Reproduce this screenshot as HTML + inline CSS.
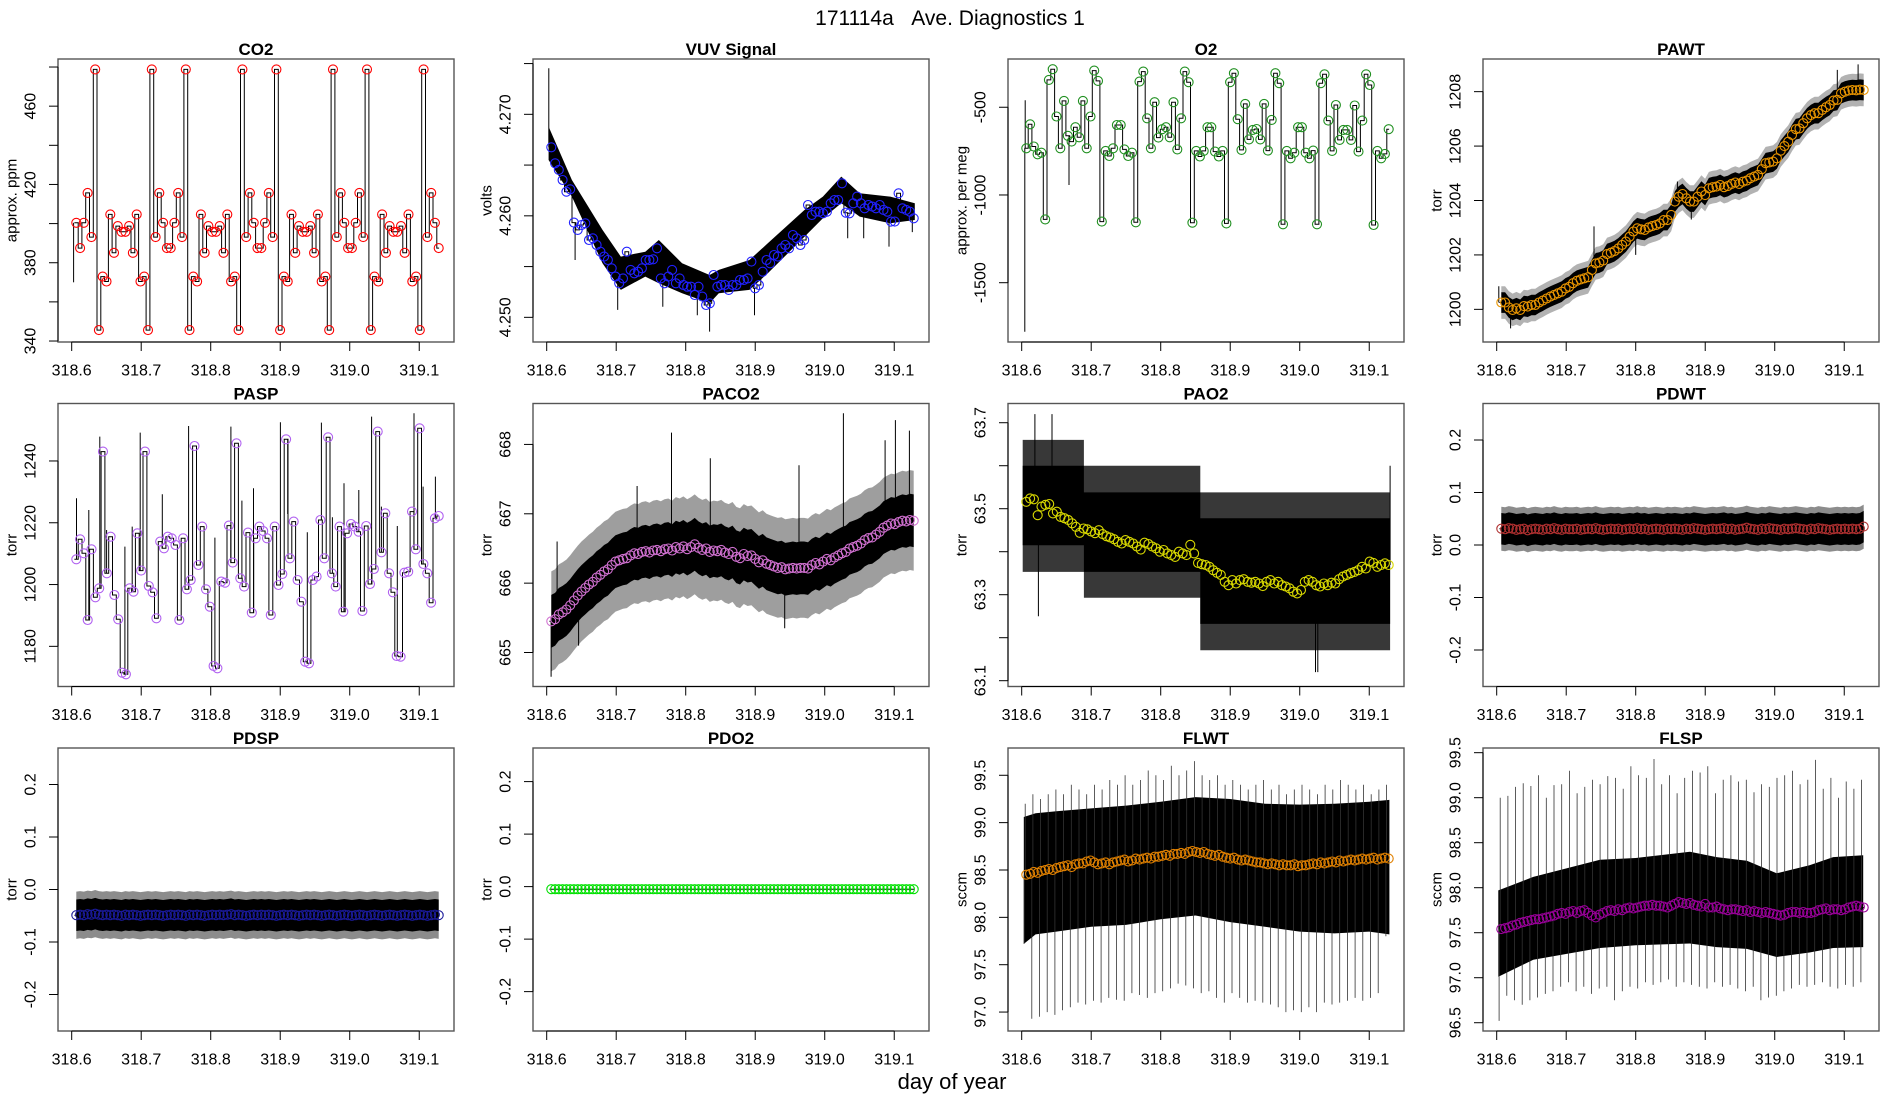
<!DOCTYPE html>
<html>
<head>
<meta charset="utf-8">
<style>
  html,body{margin:0;padding:0;background:#fff;}
  svg{display:block;font-family:"Liberation Sans",Arial,sans-serif;}
</style>
</head>
<body>
<svg id="chart" width="1900" height="1100" viewBox="0 0 1900 1100" xmlns="http://www.w3.org/2000/svg">
  <rect x="0" y="0" width="1900" height="1100" fill="#fff"/>
  <text x="950" y="25" text-anchor="middle" font-size="21" fill="#000" style="white-space:pre">171114a&#160;&#160;&#160;Ave. Diagnostics 1</text>
  <text x="952" y="1089" text-anchor="middle" font-size="22" fill="#000">day of year</text>
  <g id="panels"></g>
</svg>
<script>
// ---------- shared x-axis ----------
const xTicks = [318.6, 318.7, 318.8, 318.9, 319.0, 319.1];
const xTickLabels = ['318.6', '318.7', '318.8', '318.9', '319.0', '319.1'];
const avgStart = 318.6066;
const avgEnd = 319.128;

// ---------- CO2 ----------
const co2Avg = [400.4,387.5,400.4,415.7,393.1,478.8,345.6,372.9,370.4,404.7,385.1,398.7,395.8,395.8,398.7,385.1,404.7,370.4,372.9,345.6,478.8,393.1,415.7,400.4,387.5,387.5,400.4,415.7,393.1,478.8,345.6,372.9,370.4,404.7,385.1,398.7,395.8,395.8,398.7,385.1,404.7,370.4,372.9,345.6,478.8,393.1,415.7,400.4,387.5,387.5,400.4,415.7,393.1,478.8,345.6,372.9,370.4,404.7,385.1,398.7,395.8,395.8,398.7,385.1,404.7,370.4,372.9,345.6,478.8,393.1,415.7,400.4,387.5,387.5,400.4,415.7,393.1,478.8,345.6,372.9,370.4,404.7,385.1,398.7,395.8,395.8,398.7,385.1,404.7,370.4,372.9,345.6,478.8,393.1,415.7,400.4,387.5];
const co2SpikeT = [318.6028];
const co2SpikeV = [370.0];
const co2Ticks = [340,360,380,400,420,440,460,480];
const co2TickLabels = ['340','','380','','420','','460',''];

// ---------- VUV ----------
const vuvAvg = [4.26675,4.26517,4.26452,4.26353,4.26238,4.26261,4.25933,4.25861,4.25910,4.25926,
4.25762,4.25779,4.25713,4.25647,4.25598,4.25565,4.25483,4.25401,4.25335,4.25384,
4.25647,4.25467,4.25434,4.25450,4.25483,4.25565,4.25565,4.25572,4.25680,4.25384,
4.25335,4.25401,4.25467,4.25335,4.25384,4.25319,4.25302,4.25302,4.25220,4.25302,
4.25204,4.25122,4.25138,4.25417,4.25302,4.25319,4.25319,4.25270,4.25319,4.25319,
4.25368,4.25368,4.25384,4.25549,4.25286,4.25319,4.25450,4.25565,4.25532,4.25614,
4.25598,4.25680,4.25713,4.25680,4.25811,4.25779,4.25713,4.25762,4.26107,4.26008,
4.26041,4.26041,4.26025,4.26041,4.26123,4.26156,4.26156,4.26320,4.26031,4.26025,
4.26123,4.26189,4.26123,4.26074,4.26107,4.26091,4.26074,4.26107,4.26058,4.26041,
4.25943,4.25943,4.26222,4.26074,4.26058,4.26041,4.25976];
const vuvBandT = [318.6027,318.6363,318.6803,318.7066,318.7418,318.7613,318.7948,318.8343,318.8476,318.8916,318.9181,318.9710,318.9974,319.0238,319.0503,319.0943,319.1296];
const vuvBandHi = [4.26879,4.26353,4.25861,4.25598,4.25647,4.25762,4.25532,4.25417,4.25467,4.25565,4.25729,4.26058,4.26189,4.26386,4.26222,4.26189,4.26123];
const vuvBandLo = [4.26550,4.26189,4.25532,4.25270,4.25401,4.25335,4.25237,4.25138,4.25237,4.25270,4.25434,4.25795,4.25976,4.26123,4.25992,4.25926,4.25959];
const vuvSpikeT = [318.6030,318.6408,318.7022,318.7670,318.8167,318.8343,318.8990,319.0330,319.0560,319.0925,319.1260];
const vuvSpikeV = [4.27453,4.25565,4.25073,4.25105,4.25020,4.24859,4.25020,4.25780,4.25780,4.25697,4.25840];
const vuvTicks = [4.250,4.255,4.260,4.265,4.270,4.275];
const vuvTickLabels = ['4.250','','4.260','','4.270',''];

// ---------- O2 ----------
const o2Avg = [-734,-597,-724,-768,-759,-1139,-344,-283,-553,-734,
-464,-663,-696,-614,-671,-464,-734,-553,-291,-350,
-1152,-749,-778,-734,-601,-601,-740,-778,-759,-1156,
-354,-297,-563,-734,-471,-673,-625,-614,-671,-471,
-740,-563,-297,-357,-1158,-749,-781,-749,-614,-614,
-753,-781,-749,-1162,-357,-306,-568,-743,-481,-683,
-629,-624,-683,-481,-747,-572,-306,-363,-1167,-749,
-791,-759,-614,-614,-759,-791,-747,-1167,-363,-312,
-576,-749,-487,-686,-629,-629,-686,-490,-753,-576,
-312,-373,-1171,-749,-791,-766,-625];
const o2SpikeT = [318.6045,318.6050,318.6680];
const o2SpikeV = [-1780,-460,-943];
const o2Ticks = [-1500,-1000,-500];
const o2TickLabels = ['-1500','-1000','-500'];

// ---------- PAWT ----------
const pawtAvg = [1200.25,1200.25,1200.07,1199.98,1200.04,1199.98,1200.12,1200.10,1200.16,1200.16,
1200.25,1200.32,1200.40,1200.47,1200.53,1200.59,1200.65,1200.77,1200.83,1200.96,
1201.05,1201.10,1201.14,1201.18,1201.45,1201.69,1201.72,1201.79,1202.03,1202.08,
1202.14,1202.24,1202.37,1202.49,1202.67,1202.86,1202.98,1202.94,1202.92,1203.01,
1203.06,1203.10,1203.16,1203.28,1203.28,1203.47,1203.96,1204.14,1204.24,1204.08,
1203.96,1203.96,1204.14,1204.33,1204.20,1204.45,1204.49,1204.51,1204.57,1204.49,
1204.53,1204.61,1204.66,1204.61,1204.69,1204.73,1204.82,1204.88,1204.94,1205.15,
1205.37,1205.40,1205.43,1205.55,1205.83,1206.00,1206.16,1206.41,1206.62,1206.65,
1206.84,1207.02,1207.14,1207.21,1207.21,1207.33,1207.43,1207.51,1207.67,1207.70,
1207.94,1208.00,1208.04,1208.06,1208.05,1208.07,1208.06];
const pawtSpikeT = [318.6030,318.6200,318.7400,318.8000,318.8600,318.8800,319.0900,319.1200];
const pawtSpikeV = [1200.85,1199.30,1203.05,1202.00,1204.70,1203.30,1208.80,1209.00];
const pawtTicks = [1200,1202,1204,1206,1208];
const pawtTickLabels = ['1200','1202','1204','1206','1208'];

// ---------- PASP ----------
const paspAvg = [1208.17,1214.64,1210.11,1188.53,1211.40,1195.87,1198.78,1243.02,1203.63,1215.50,
1196.62,1188.74,1171.48,1170.94,1198.78,1197.70,1216.58,1204.50,1243.02,1199.53,
1197.48,1189.07,1213.89,1211.73,1215.50,1214.96,1212.81,1188.53,1214.96,1198.45,
1201.48,1244.86,1206.33,1218.74,1198.45,1192.84,1173.64,1172.88,1200.94,1200.61,
1219.07,1207.09,1245.72,1202.02,1199.32,1216.80,1190.90,1214.96,1218.74,1217.34,
1214.96,1190.14,1218.74,1199.86,1203.42,1247.01,1208.49,1220.36,1201.48,1194.46,
1175.04,1174.50,1201.48,1202.56,1220.90,1208.49,1247.66,1203.63,1199.32,1218.74,
1191.22,1216.58,1219.60,1218.74,1217.12,1191.44,1218.96,1200.18,1205.04,1249.50,
1210.43,1223.06,1203.63,1197.48,1176.87,1176.66,1203.85,1204.17,1223.60,1211.40,
1250.58,1206.66,1203.63,1194.14,1221.44,1222.20];
const paspSpikeT = [318.6069,318.6246,318.6404,318.6502,318.6765,318.6871,318.6985,318.7303,318.7682,318.7796,318.8060,318.8290,318.8448,318.8615,318.9003,318.9108,318.9390,318.9593,318.9751,318.9918,319.0130,319.0315,319.0456,319.0685,319.0924,319.1055,319.1232];
const paspSpikeV = [1227.91,1224.14,1247.88,1217.66,1212.27,1218.74,1249.17,1229.21,1251.33,1221.12,1215.18,1251.11,1227.16,1231.15,1252.52,1222.84,1216.91,1252.41,1221.76,1232.77,1230.61,1254.35,1225.22,1218.96,1255.43,1231.69,1234.93];
const paspTicks = [1180,1200,1220,1240];
const paspTickLabels = ['1180','1200','1220','1240'];

// ---------- PACO2 ----------
const paco2Avg = [665.45,665.48,665.55,665.58,665.62,665.68,665.75,
665.82,665.88,665.93,665.98,666.02,666.08,
666.12,666.17,666.20,666.26,666.31,
666.33,666.35,666.36,666.40,666.43,
666.42,666.45,666.46,666.44,666.47,666.48,
666.46,666.49,666.50,666.47,666.52,
666.50,666.53,666.49,666.52,666.56,
666.51,666.48,666.50,666.45,666.47,
666.46,666.48,666.44,666.42,666.45,
666.38,666.36,666.42,666.39,666.40,
666.35,666.30,666.33,666.28,666.26,
666.24,666.22,666.23,666.20,666.21,
666.22,666.21,666.22,666.22,666.21,
666.26,666.29,666.27,666.31,
666.35,666.33,666.37,666.40,666.43,
666.45,666.50,666.52,666.54,666.57,
666.62,666.65,666.66,666.70,666.74,
666.80,666.83,666.86,666.85,666.88,
666.90,666.89,666.91,666.90];
const paco2SpikeT = [318.6063,318.6459,318.7795,318.8354,318.9424,318.9630,319.0269,319.0868,319.1017,319.1218,318.6150,318.7300];
const paco2SpikeV = [664.65,665.10,668.17,667.80,665.35,667.70,668.45,668.06,668.35,668.20,666.60,667.40];
const paco2Ticks = [665,666,667,668];
const paco2TickLabels = ['665','666','667','668'];

// ---------- PAO2 ----------
const pao2Avg = [63.516,63.524,63.522,63.485,63.505,63.509,63.511,63.489,63.493,63.481,
63.478,63.474,63.466,63.458,63.444,63.454,63.452,63.447,63.443,63.450,
63.441,63.436,63.433,63.429,63.423,63.419,63.427,63.423,63.419,63.412,
63.405,63.421,63.418,63.412,63.408,63.400,63.404,63.396,63.392,63.388,
63.400,63.396,63.392,63.416,63.396,63.374,63.371,63.369,63.365,63.357,
63.351,63.346,63.330,63.322,63.334,63.326,63.334,63.336,63.330,63.328,
63.330,63.326,63.320,63.330,63.334,63.326,63.330,63.322,63.319,63.315,
63.307,63.303,63.311,63.330,63.334,63.330,63.322,63.319,63.326,63.322,
63.328,63.326,63.336,63.342,63.346,63.350,63.353,63.357,63.365,63.361,
63.377,63.374,63.365,63.369,63.373,63.369];
const pao2BandT = [318.6014,318.6895,318.6895,318.8570,318.8570,319.1300];
const pao2BandHi = [63.600,63.600,63.538,63.538,63.478,63.478];
const pao2BandLo = [63.415,63.415,63.353,63.353,63.232,63.232];
const pao2HairHi = [63.660,63.660,63.600,63.600,63.538,63.538];
const pao2HairLo = [63.353,63.353,63.293,63.293,63.171,63.171];
const pao2SpikeT = [318.6190,318.6436,318.6240,319.0227,319.0260,319.1300];
const pao2SpikeV = [63.720,63.720,63.250,63.120,63.120,63.600];
const pao2Ticks = [63.1,63.2,63.3,63.4,63.5,63.6,63.7];
const pao2TickLabels = ['63.1','','63.3','','63.5','','63.7'];

// ---------- PDWT ----------
const pdwtAvg = [0.031,0.030,0.032,0.031,0.029,0.030,0.031,0.028,0.030,0.031,
0.030,0.029,0.031,0.030,0.032,0.030,0.029,0.031,0.030,0.030,
0.031,0.029,0.030,0.031,0.030,0.032,0.030,0.029,0.030,0.031,
0.030,0.031,0.029,0.030,0.031,0.030,0.032,0.030,0.031,0.029,
0.030,0.031,0.030,0.029,0.031,0.030,0.031,0.030,0.029,0.031,
0.030,0.032,0.031,0.030,0.029,0.030,0.031,0.030,0.031,0.032,
0.030,0.031,0.029,0.030,0.031,0.033,0.031,0.030,0.029,0.031,
0.030,0.032,0.031,0.030,0.029,0.031,0.030,0.031,0.032,0.031,
0.030,0.029,0.031,0.030,0.032,0.031,0.030,0.029,0.030,0.031,
0.030,0.031,0.030,0.031,0.030,0.031,0.035];
const pdwtTicks = [-0.2,-0.1,0.0,0.1,0.2];
const pdwtTickLabels = ['-0.2','-0.1','0.0','0.1','0.2'];

// ---------- PDSP ----------
const pdspAvg = [-0.049,-0.048,-0.049,-0.047,-0.048,-0.046,-0.048,-0.049,-0.048,-0.049,
-0.048,-0.049,-0.050,-0.048,-0.049,-0.048,-0.049,-0.050,-0.049,-0.048,
-0.049,-0.048,-0.049,-0.050,-0.049,-0.048,-0.049,-0.048,-0.049,-0.050,
-0.048,-0.049,-0.048,-0.049,-0.050,-0.049,-0.048,-0.049,-0.048,-0.049,
-0.048,-0.047,-0.049,-0.048,-0.049,-0.050,-0.049,-0.048,-0.049,-0.048,
-0.049,-0.048,-0.049,-0.050,-0.049,-0.048,-0.049,-0.048,-0.049,-0.050,
-0.049,-0.048,-0.049,-0.048,-0.049,-0.050,-0.049,-0.048,-0.049,-0.050,
-0.049,-0.048,-0.049,-0.050,-0.049,-0.048,-0.049,-0.050,-0.049,-0.048,
-0.049,-0.050,-0.049,-0.048,-0.049,-0.050,-0.049,-0.048,-0.049,-0.050,
-0.049,-0.048,-0.049,-0.050,-0.049,-0.048,-0.049];
const pdspTicks = [-0.2,-0.1,0.0,0.1,0.2];
const pdspTickLabels = ['-0.2','-0.1','0.0','0.1','0.2'];

// ---------- PDO2 ----------
const pdo2Avg = [-0.005,-0.005,-0.005,-0.005,-0.005,-0.005,-0.005,-0.005,-0.005,-0.005,
-0.005,-0.005,-0.005,-0.005,-0.005,-0.005,-0.005,-0.005,-0.005,-0.005,
-0.005,-0.005,-0.005,-0.005,-0.005,-0.005,-0.005,-0.005,-0.005,-0.005,
-0.005,-0.005,-0.005,-0.005,-0.005,-0.005,-0.005,-0.005,-0.005,-0.005,
-0.005,-0.005,-0.005,-0.005,-0.005,-0.005,-0.005,-0.005,-0.005,-0.005,
-0.005,-0.005,-0.005,-0.005,-0.005,-0.005,-0.005,-0.005,-0.005,-0.005,
-0.005,-0.005,-0.005,-0.005,-0.005,-0.005,-0.005,-0.005,-0.005,-0.005,
-0.005,-0.005,-0.005,-0.005,-0.005,-0.005,-0.005,-0.005,-0.005,-0.005,
-0.005,-0.005,-0.005,-0.005,-0.005,-0.005,-0.005,-0.005,-0.005,-0.005,
-0.005,-0.005,-0.005,-0.005,-0.005,-0.005,-0.005];
const pdo2Ticks = [-0.2,-0.1,0.0,0.1,0.2];
const pdo2TickLabels = ['-0.2','-0.1','0.0','0.1','0.2'];

// ---------- FLWT ----------
const flwtAvg = [98.45,98.46,98.48,98.47,98.49,98.50,98.51,98.50,98.52,98.53,
98.54,98.55,98.53,98.56,98.57,98.57,98.59,98.60,98.58,98.56,
98.57,98.58,98.56,98.58,98.59,98.60,98.61,98.59,98.60,98.62,
98.61,98.62,98.63,98.62,98.64,98.64,98.65,98.66,98.65,98.67,
98.67,98.68,98.67,98.69,98.70,98.69,98.68,98.69,98.67,98.66,
98.65,98.66,98.64,98.63,98.62,98.63,98.61,98.60,98.61,98.60,
98.59,98.58,98.58,98.57,98.56,98.57,98.56,98.55,98.56,98.55,
98.55,98.56,98.54,98.55,98.55,98.56,98.57,98.56,98.58,98.57,
98.58,98.59,98.58,98.60,98.59,98.60,98.61,98.60,98.61,98.62,
98.61,98.62,98.63,98.61,98.62,98.63,98.62];
const flwtBandT = [318.603,318.62,318.65,318.70,318.75,318.80,318.85,318.90,318.95,319.00,319.05,319.10,319.129];
const flwtBandHi = [99.06,99.10,99.12,99.15,99.18,99.22,99.27,99.25,99.20,99.19,99.20,99.22,99.24];
const flwtBandLo = [97.72,97.82,97.85,97.90,97.92,97.98,98.02,97.95,97.90,97.85,97.83,97.85,97.82];
const flwtSpikeUp = [99.20,99.30,99.25,99.30,99.35,99.30,99.40,99.35,99.30,99.40,99.35,99.45,99.40,99.50,99.40,99.45,99.55,99.50,99.45,99.60,99.50,99.55,99.65,99.50,99.45,99.50,99.40,99.45,99.40,99.35,99.40,99.45,99.35,99.40,99.30,99.35,99.40,99.35,99.30,99.40,99.35,99.45,99.40,99.35,99.40,99.30,99.35,99.40];
const flwtSpikeDown = [97.72,96.93,96.95,97.00,96.97,97.02,97.05,97.10,97.08,97.12,97.10,97.15,97.13,97.12,97.20,97.18,97.15,97.20,97.22,97.25,97.30,97.28,97.25,97.20,97.22,97.15,97.10,97.20,97.15,97.10,97.12,97.10,97.08,97.05,97.00,97.02,97.00,97.05,97.00,97.10,97.08,97.10,97.12,97.15,97.12,97.15,97.20,97.80];
const flwtTicks = [97.0,97.5,98.0,98.5,99.0,99.5];
const flwtTickLabels = ['97.0','97.5','98.0','98.5','99.0','99.5'];

// ---------- FLSP ----------
const flspAvg = [97.54,97.55,97.56,97.58,97.59,97.61,97.62,97.63,97.64,97.65,
97.65,97.66,97.67,97.68,97.69,97.71,97.72,97.71,97.73,97.74,
97.72,97.74,97.75,97.72,97.69,97.67,97.70,97.72,97.74,97.75,
97.74,97.76,97.75,97.77,97.78,97.77,97.78,97.79,97.80,97.80,
97.81,97.80,97.80,97.79,97.78,97.80,97.82,97.84,97.83,97.82,
97.83,97.81,97.80,97.79,97.82,97.78,97.78,97.79,97.77,97.76,
97.75,97.76,97.76,97.75,97.74,97.75,97.73,97.74,97.73,97.72,
97.73,97.72,97.71,97.70,97.69,97.70,97.72,97.73,97.73,97.72,
97.73,97.72,97.72,97.73,97.75,97.76,97.77,97.75,97.76,97.76,
97.75,97.76,97.78,97.79,97.80,97.79,97.78];
const flspBandT = [318.6023,318.6527,318.7486,318.8000,318.8780,318.9164,318.9600,319.0027,319.0500,319.0841,319.1273];
const flspBandHi = [97.97,98.12,98.31,98.33,98.40,98.34,98.30,98.16,98.25,98.34,98.36];
const flspBandLo = [97.01,97.20,97.33,97.36,97.38,97.34,97.32,97.23,97.28,97.33,97.34];
const flspSpikeUp = [99.00,99.02,99.12,99.16,99.13,99.25,99.00,99.14,99.15,99.30,99.05,99.12,99.20,99.15,99.24,99.22,99.10,99.35,99.25,99.22,99.43,99.15,99.25,99.05,99.22,99.30,99.28,99.35,99.05,99.20,99.25,99.18,99.20,99.06,99.15,99.12,99.22,99.25,99.30,99.15,99.20,99.42,99.10,99.22,99.00,99.18,99.10,99.20];
const flspSpikeDown = [96.52,96.80,96.75,96.70,96.75,96.78,96.82,96.85,96.90,96.95,96.85,96.90,96.82,96.88,96.90,96.75,96.85,96.90,96.88,96.95,96.92,96.95,96.98,96.90,96.95,96.92,96.90,96.88,96.95,96.90,96.92,96.88,96.85,96.90,96.75,96.78,96.80,96.85,96.88,96.92,96.90,96.92,96.95,96.90,96.88,96.92,96.90,96.95];
const flspTicks = [96.5,97.0,97.5,98.0,98.5,99.0,99.5];
const flspTickLabels = ['96.5','97.0','97.5','98.0','98.5','99.0','99.5'];

// ---------- layout (not data) ----------
const COLS = [58, 533, 1008, 1483];
const ROWS = [59, 403.5, 748];
const BOX_W = 396, BOX_H = 283;
const X_MIN = 318.5803, X_MAX = 319.1500;
const NS = 'http://www.w3.org/2000/svg';
const root = document.getElementById('panels');

function mk(tag, attrs, parent) {
  const el = document.createElementNS(NS, tag);
  for (const k in attrs) el.setAttribute(k, attrs[k]);
  if (parent) parent.appendChild(el);
  return el;
}
function avgTime(i, n) { return avgStart + i * (avgEnd - avgStart) / (n - 1); }

function drawPanel(cfg) {
  const bx = COLS[cfg.col], by = ROWS[cfg.row];
  const sx = t => bx + (t - X_MIN) / (X_MAX - X_MIN) * BOX_W;
  const sy = v => by + (cfg.ymax - v) / (cfg.ymax - cfg.ymin) * BOX_H;
  const g = mk('g', {}, root);
  
  
  const clipId = 'clip-' + cfg.key;
  const cp = mk('clipPath', {id: clipId}, g);
  mk('rect', {x: bx, y: by, width: BOX_W, height: BOX_H}, cp);
  const plot = mk('g', {'clip-path': 'url(#' + clipId + ')'}, g);
  
  

  const avg = cfg.avg, n = avg.length;
  const nearest = t => {
    let idx = Math.round((t - avgStart) / (avgEnd - avgStart) * (n - 1));
    return avg[Math.max(0, Math.min(n - 1, idx))];
  };
  const bandPath = (ts, hi, lo) => {
    let d = '';
    for (let i = 0; i < ts.length; i++) d += (i ? 'L' : 'M') + sx(ts[i]).toFixed(1) + ',' + sy(hi[i]).toFixed(1);
    for (let i = ts.length - 1; i >= 0; i--) d += 'L' + sx(ts[i]).toFixed(1) + ',' + sy(lo[i]).toFixed(1);
    return d + 'Z';
  };
  const tsAvg = avg.map((v, i) => avgTime(i, n));

  if (cfg.hairHi) {
    const p = mk('path', {d: bandPath(cfg.bandT, cfg.hairHi, cfg.hairLo), fill: '#000', 'fill-opacity': cfg.hairOp || 0.7}, plot);
    
    
  } else if (cfg.hairW) {
    const p = mk('path', {d: bandPath(tsAvg, avg.map(v => v + cfg.hairW), avg.map(v => v - cfg.hairW)), fill: '#000', 'fill-opacity': cfg.hairOp || 0.35}, plot);
    
    
  }
  if (cfg.bandHi) {
    const p = mk('path', {d: bandPath(cfg.bandT, cfg.bandHi, cfg.bandLo), fill: '#000'}, plot);
    
    
  } else if (cfg.bandW) {
    const p = mk('path', {d: bandPath(tsAvg, avg.map(v => v + cfg.bandW), avg.map(v => v - cfg.bandW)), fill: '#000'}, plot);
    
    
  }
  // raw step line (vertical transitions midway between averages)
  {
    const half = (avgEnd - avgStart) / (n - 1) / 2;
    let d = 'M' + sx(tsAvg[0] - half).toFixed(1) + ',' + sy(avg[0]).toFixed(1);
    for (let i = 0; i < n; i++) {
      const xr = sx(tsAvg[i] + (i < n - 1 ? half : 0.0005)).toFixed(1);
      d += 'L' + xr + ',' + sy(avg[i]).toFixed(1);
      if (i < n - 1) d += 'L' + xr + ',' + sy(avg[i + 1]).toFixed(1);
    }
    const p = mk('path', {d: d, fill: 'none', stroke: '#000', 'stroke-width': 1}, plot);
    
    
  }
  const drawSpikes = (ts, vs, label, w, col) => {
    let d = '';
    for (let i = 0; i < vs.length; i++) {
      const x = sx(ts[i]).toFixed(1);
      d += 'M' + x + ',' + sy(nearest(ts[i])).toFixed(1) + 'L' + x + ',' + sy(vs[i]).toFixed(1);
    }
    const p = mk('path', {d: d, fill: 'none', stroke: col || '#000', 'stroke-width': w || 1}, plot);
    
    
  };
  if (cfg.spikeT) drawSpikes(cfg.spikeT, cfg.spikeV, cfg.key + '-spikes');
  if (cfg.spikeUp) {
    const m = cfg.spikeUp.length;
    const st = cfg.spikeUp.map((v, i) => 318.605 + i * (319.125 - 318.605) / (m - 1));
    drawSpikes(st, cfg.spikeUp, cfg.key + '-spikes-up', 0.8, '#333');
    const m2 = cfg.spikeDown.length;
    const st2 = cfg.spikeDown.map((v, i) => 318.6035 + i * (319.124 - 318.6035) / (m2 - 1));
    drawSpikes(st2, cfg.spikeDown, cfg.key + '-spikes-down', 0.8, '#333');
  }
  const cg = mk('g', {fill: 'none', stroke: cfg.color, 'stroke-width': 1.1}, plot);
  
  
  for (let i = 0; i < n; i++) {
    const c = mk('circle', {cx: sx(tsAvg[i]).toFixed(1), cy: sy(avg[i]).toFixed(1), r: 4.5}, cg);
    
    
  }

  const box = mk('rect', {x: bx, y: by, width: BOX_W, height: BOX_H, fill: 'none', stroke: '#555', 'stroke-width': 1.4}, g);
  
  

  const xa = mk('g', {}, g);
  
  
  const yb = by + BOX_H;
  mk('line', {x1: sx(xTicks[0]), x2: sx(xTicks[xTicks.length - 1]), y1: yb, y2: yb, stroke: '#000', 'stroke-width': 1}, xa);
  xTicks.forEach((t, i) => {
    mk('line', {x1: sx(t), x2: sx(t), y1: yb, y2: yb + 9, stroke: '#000', 'stroke-width': 1}, xa);
    const tx = mk('text', {x: sx(t), y: yb + 29, 'text-anchor': 'middle', 'dominant-baseline': 'central', 'font-size': 16, fill: '#000'}, xa);
    tx.textContent = xTickLabels[i];
    
    
  });

  const ya = mk('g', {}, g);
  
  
  const tk = cfg.ticks;
  mk('line', {x1: bx, x2: bx, y1: sy(tk[0]), y2: sy(tk[tk.length - 1]), stroke: '#000', 'stroke-width': 1}, ya);
  tk.forEach((v, i) => {
    const y = sy(v);
    mk('line', {x1: bx - 9, x2: bx, y1: y, y2: y, stroke: '#000', 'stroke-width': 1}, ya);
    if (cfg.tickLabels[i]) {
      const lx = bx - 27;
      const tx = mk('text', {x: lx, y: y, 'text-anchor': 'middle', 'dominant-baseline': 'central', 'font-size': 16, fill: '#000', transform: 'rotate(-90 ' + lx + ' ' + y.toFixed(1) + ')'}, ya);
      tx.textContent = cfg.tickLabels[i];
      
      
    }
  });
  const ly = by + BOX_H / 2, lx = bx - 46;
  const yl = mk('text', {x: lx, y: ly, 'text-anchor': 'middle', 'dominant-baseline': 'central', 'font-size': 15, fill: '#000', transform: 'rotate(-90 ' + lx + ' ' + ly + ')'}, ya);
  yl.textContent = cfg.ylab;
  
  

  const tt = mk('text', {x: bx + BOX_W / 2, y: by - 4, 'text-anchor': 'middle', 'font-size': 17, 'font-weight': 'bold', fill: '#000'}, g);
  tt.textContent = cfg.title;
  
  
}

const panelConfigs = [
  {key:'co2', title:'CO2', ylab:'approx. ppm', col:0, row:0, ymin:339.5, ymax:484.1, ticks:co2Ticks, tickLabels:co2TickLabels, avg:co2Avg, color:'#ff0000', spikeT:co2SpikeT, spikeV:co2SpikeV},
  {key:'vuv', title:'VUV Signal', ylab:'volts', col:1, row:0, ymin:4.24757, ymax:4.27545, ticks:vuvTicks, tickLabels:vuvTickLabels, avg:vuvAvg, color:'#2020ff', bandT:vuvBandT, bandHi:vuvBandHi, bandLo:vuvBandLo, spikeT:vuvSpikeT, spikeV:vuvSpikeV},
  {key:'o2', title:'O2', ylab:'approx. per meg', col:2, row:0, ymin:-1838, ymax:-225, ticks:o2Ticks, tickLabels:o2TickLabels, avg:o2Avg, color:'#1f8f1f', spikeT:o2SpikeT, spikeV:o2SpikeV},
  {key:'pawt', title:'PAWT', ylab:'torr', col:3, row:0, ymin:1198.8, ymax:1209.2, ticks:pawtTicks, tickLabels:pawtTickLabels, avg:pawtAvg, color:'#e89400', bandW:0.38, hairW:0.6, hairOp:0.3, spikeT:pawtSpikeT, spikeV:pawtSpikeV},
  {key:'pasp', title:'PASP', ylab:'torr', col:0, row:1, ymin:1167.0, ymax:1258.6, ticks:paspTicks, tickLabels:paspTickLabels, avg:paspAvg, color:'#b060f0', spikeT:paspSpikeT, spikeV:paspSpikeV},
  {key:'paco2', title:'PACO2', ylab:'torr', col:1, row:1, ymin:664.51, ymax:668.59, ticks:paco2Ticks, tickLabels:paco2TickLabels, avg:paco2Avg, color:'#d070d0', bandW:0.38, hairW:0.72, hairOp:0.38, spikeT:paco2SpikeT, spikeV:paco2SpikeV},
  {key:'pao2', title:'PAO2', ylab:'torr', col:2, row:1, ymin:63.0865, ymax:63.7447, ticks:pao2Ticks, tickLabels:pao2TickLabels, avg:pao2Avg, color:'#d8d800', bandT:pao2BandT, bandHi:pao2BandHi, bandLo:pao2BandLo, hairHi:pao2HairHi, hairLo:pao2HairLo, hairOp:0.78, spikeT:pao2SpikeT, spikeV:pao2SpikeV},
  {key:'pdwt', title:'PDWT', ylab:'torr', col:3, row:1, ymin:-0.2695, ymax:0.2695, ticks:pdwtTicks, tickLabels:pdwtTickLabels, avg:pdwtAvg, color:'#b03030', bandW:0.03, hairW:0.042, hairOp:0.45},
  {key:'pdsp', title:'PDSP', ylab:'torr', col:0, row:2, ymin:-0.2695, ymax:0.2695, ticks:pdspTicks, tickLabels:pdspTickLabels, avg:pdspAvg, color:'#1a1a9a', bandW:0.03, hairW:0.045, hairOp:0.45},
  {key:'pdo2', title:'PDO2', ylab:'torr', col:1, row:2, ymin:-0.275, ymax:0.264, ticks:pdo2Ticks, tickLabels:pdo2TickLabels, avg:pdo2Avg, color:'#00e000'},
  {key:'flwt', title:'FLWT', ylab:'sccm', col:2, row:2, ymin:96.80, ymax:99.788, ticks:flwtTicks, tickLabels:flwtTickLabels, avg:flwtAvg, color:'#e08000', bandT:flwtBandT, bandHi:flwtBandHi, bandLo:flwtBandLo, spikeUp:flwtSpikeUp, spikeDown:flwtSpikeDown},
  {key:'flsp', title:'FLSP', ylab:'sccm', col:3, row:2, ymin:96.408, ymax:99.552, ticks:flspTicks, tickLabels:flspTickLabels, avg:flspAvg, color:'#990099', bandT:flspBandT, bandHi:flspBandHi, bandLo:flspBandLo, spikeUp:flspSpikeUp, spikeDown:flspSpikeDown}
];
panelConfigs.forEach(drawPanel);
</script>
</body>
</html>
